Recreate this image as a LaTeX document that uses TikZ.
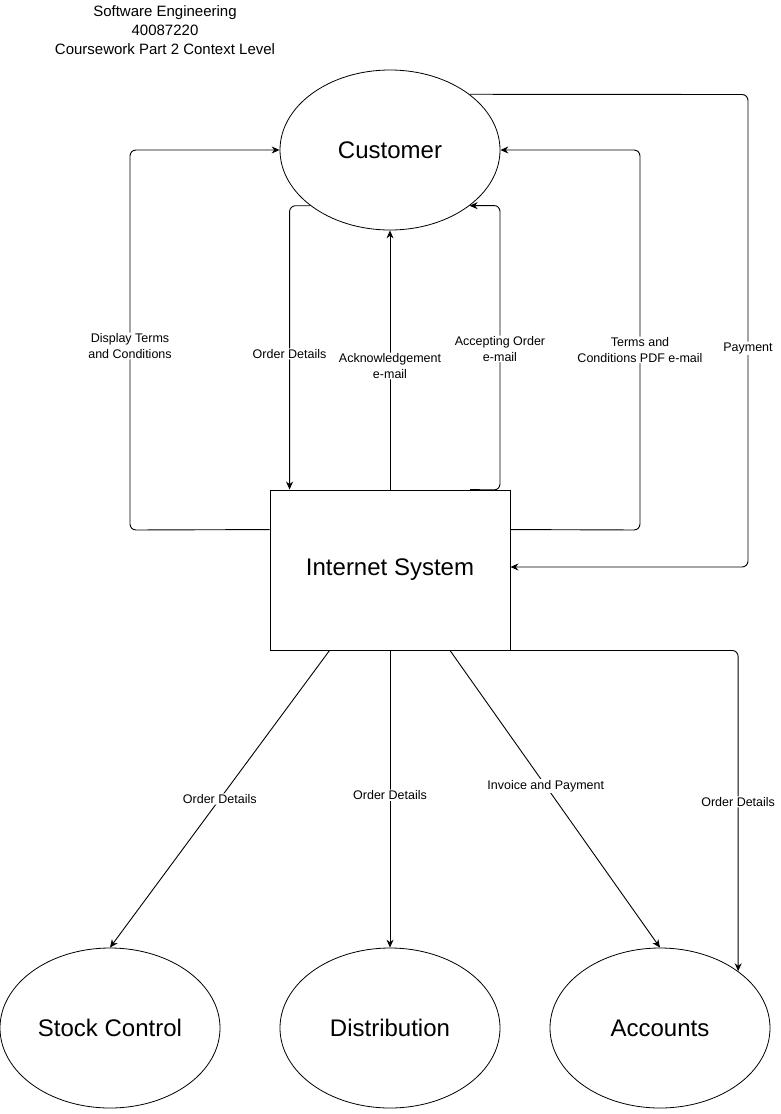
\documentclass[tikz,border=0pt]{standalone}
\usepackage{fontspec}
\setmainfont{Liberation Sans}
\usetikzlibrary{shapes.geometric,arrows.meta,calc}
\begin{document}
\begin{tikzpicture}[x=1pt,y=-1pt,
  ell/.style={draw,ellipse,minimum width=220pt,minimum height=160pt,inner sep=0pt,line width=0.8pt,font=\fontsize{24}{28}\selectfont},
  box/.style={draw,rectangle,minimum width=240pt,minimum height=160pt,inner sep=0pt,line width=0.9pt,font=\fontsize{24}{28}\selectfont},
  conn/.style={line width=0.9pt,rounded corners=6pt,-{Stealth[length=8pt,width=7pt]}},
  lbl/.style={fill=white,inner sep=1pt,align=center,font=\fontsize{12.5}{15.5}\selectfont}
]
\useasboundingbox (0,0) rectangle (780,1114);
\node[align=center,font=\fontsize{15}{19}\selectfont] (title) at (165,30) {Software Engineering\\40087220\\Coursework Part 2 Context Level};
\node[ell] (cust) at (390,150) {Customer};
\node[box] (is) at (390,570) {Internet System};
\node[ell] (sc) at (110,1028) {Stock Control};
\node[ell] (dist) at (390,1028) {Distribution};
\node[ell] (acc) at (660,1028) {Accounts};

% Display Terms and Conditions
\draw[conn] ($(is.north west)+(0,40)$) -- (130,530) -- node[lbl,pos=0.484]{Display Terms\\and Conditions} (130,150) -- (cust.west);
% Order Details
\draw[conn] (cust.215) -| node[lbl,pos=0.761]{Order Details} ($(is.north west)+(20,0)$);
% Acknowledgement
\draw[conn] (is.north) -- node[lbl,pos=0.477]{Acknowledgement\\e-mail} (cust.south);
% Accepting Order
\draw[conn] ($(is.north)+(80,0)$) -- (500,490) -- node[lbl,pos=0.496]{Accepting Order\\e-mail} (500,205.5) -- (cust.-35);
% Terms and Conditions PDF
\draw[conn] ($(is.north east)+(0,40)$) -- (640,530) -- node[lbl,pos=0.474]{Terms and\\Conditions PDF e-mail} (640,150) -- (cust.east);
% Payment
\draw[conn] (cust.35) -- (748,94.5) -- node[lbl,pos=0.537]{Payment} (748,567) -- ($(is.east)+(0,-3)$);
% Bottom flows
\draw[conn] ($(is.south west)+(60,0)$) -- node[lbl,pos=0.5]{Order Details} (sc.north);
\draw[conn] (is.south) -- node[lbl,pos=0.487]{Order Details} (dist.north);
\draw[conn] ($(is.south)+(60,0)$) -- node[lbl,pos=0.456]{Invoice and Payment} (acc.north);
\draw[conn] (is.south east) -| node[lbl,pos=0.736]{Order Details} (acc.36);
\end{tikzpicture}
\end{document}
